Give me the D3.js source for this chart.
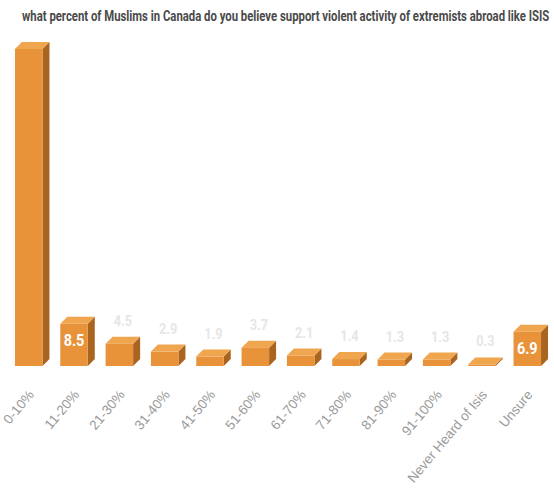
<!DOCTYPE html>
<html>
<head>
<meta charset="utf-8">
<script src="https://cdn.jsdelivr.net/npm/d3@7"></script>
<style>
  html, body { margin: 0; padding: 0; background: #fff; }
  svg { display: block; }
</style>
</head>
<body>
<svg id="chart" width="554" height="496"></svg>
<script>
// Survey answers and their shares (percent)
const title = "what percent of Muslims in Canada do you believe support violent activity of extremists abroad like ISIS";
const categories = ["0-10%", "11-20%", "21-30%", "31-40%", "41-50%", "51-60%", "61-70%", "71-80%", "81-90%", "91-100%", "Never Heard of Isis", "Unsure"];
const values = [63.9, 8.5, 4.5, 2.9, 1.9, 3.7, 2.1, 1.4, 1.3, 1.3, 0.3, 6.9];
// Value captions; the tallest bar carries none
const valueLabels = [null, "8.5", "4.5", "2.9", "1.9", "3.7", "2.1", "1.4", "1.3", "1.3", "0.3", "6.9"];

const W = 554, H = 496;
const baseY = 366;   // bottom edge of the front faces
const depth = 7;     // 3D extrusion offset

const svg = d3.select("#chart");

const x = d3.scaleBand()
  .domain(categories)
  .range([0, 556])
  .paddingInner(0.393)
  .paddingOuter(0.33);

const y = d3.scaleLinear()
  .domain([0, 63.9])
  .range([baseY, 49]);

const colFront = "#E8933A", colTop = "#F0A54F", colSide = "#A9641F";

// Title: small face stretched vertically to get a condensed look
const titleText = svg.append("text")
  .attr("x", 0).attr("y", 0)
  .attr("font-family", "Roboto, 'Liberation Sans', sans-serif")
  .attr("font-weight", "700")
  .attr("font-size", 11)
  .attr("fill", "#4a4a4a")
  .text(title);
const tw = titleText.node().getComputedTextLength();
titleText.attr("transform", `translate(22,21) scale(${528 / tw},1.3)`);

const data = categories.map((c, i) => ({ c, v: values[i], label: valueLabels[i] }));

const bars = svg.append("g").selectAll("g").data(data).join("g");

bars.each(function(d) {
  const g = d3.select(this);
  const x0 = x(d.c), w = x.bandwidth(), yt = y(d.v);
  // side face
  g.append("path")
    .attr("d", `M${x0 + w},${yt} L${x0 + w + depth},${yt - depth} L${x0 + w + depth},${baseY - depth} L${x0 + w},${baseY} Z`)
    .attr("fill", colSide);
  // top face
  g.append("path")
    .attr("d", `M${x0},${yt} L${x0 + depth},${yt - depth} L${x0 + w + depth},${yt - depth} L${x0 + w},${yt} Z`)
    .attr("fill", colTop);
  // front face
  g.append("rect")
    .attr("x", x0).attr("y", yt)
    .attr("width", w).attr("height", baseY - yt)
    .attr("fill", colFront);

  if (d.label) {
    const inside = d.v >= 6;
    const cx = inside ? x0 + w / 2 : x0 + w / 2 + depth / 2;
    g.append("text")
      .attr("x", cx)
      .attr("y", inside ? yt + 22 : yt - depth - 11)
      .attr("text-anchor", "middle")
      .attr("font-family", "Roboto, 'Liberation Sans', sans-serif")
      .attr("font-weight", "700")
      .attr("font-size", inside ? 17 : 15)
      .attr("fill", inside ? "#ffffff" : "#e6e6e6")
      .attr("transform", `translate(${cx},0) scale(0.85,1) translate(${-cx},0)`)
      .text(d.label);
  }
});

// Category axis labels, slanted
const xAxis = svg.append("g")
  .attr("transform", `translate(0,${baseY})`)
  .call(d3.axisBottom(x).tickSize(0).tickPadding(0));
xAxis.select(".domain").remove();
xAxis.selectAll("text")
  .attr("font-family", "'Liberation Sans', Arial, sans-serif")
  .attr("font-size", 13.5)
  .attr("fill", "#9a9a9a")
  .attr("text-anchor", "end")
  .attr("dy", 0)
  .attr("transform", "translate(6,29) rotate(-50)");
</script>
</body>
</html>
